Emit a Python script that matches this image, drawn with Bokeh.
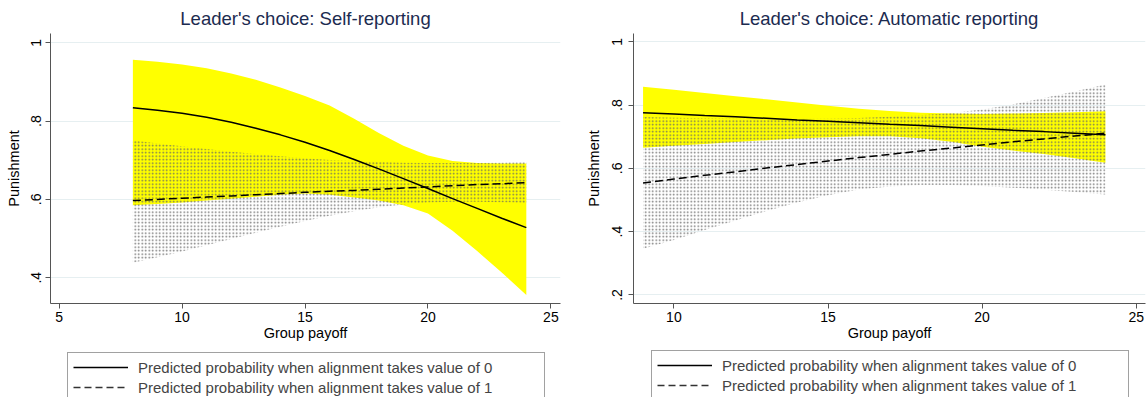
import math
from bokeh.plotting import figure
from bokeh.models import Range1d, Legend, LegendItem, FixedTicker
from bokeh.layouts import row, column
from bokeh.embed import file_html
from bokeh.resources import INLINE

# ---------------- data: Self-reporting ----------------
x_sr = [8, 9, 10, 11, 12, 13, 14, 15, 16, 17, 18, 19, 20, 21, 22, 23, 24]
pred0_sr = [0.834, 0.828, 0.820, 0.810, 0.797, 0.782, 0.765, 0.746, 0.725,
            0.702, 0.678, 0.653, 0.628, 0.602, 0.577, 0.552, 0.528]
hi0_sr = [0.957, 0.952, 0.945, 0.935, 0.922, 0.906, 0.886, 0.864, 0.840,
          0.806, 0.770, 0.737, 0.712, 0.698, 0.693, 0.692, 0.692]
lo0_sr = [0.585, 0.588, 0.592, 0.597, 0.602, 0.607, 0.612, 0.615, 0.612,
          0.605, 0.597, 0.585, 0.564, 0.520, 0.468, 0.413, 0.356]
pred1_sr = [0.597, 0.600, 0.603, 0.606, 0.609, 0.612, 0.615, 0.618, 0.621,
            0.623, 0.626, 0.629, 0.632, 0.635, 0.638, 0.640, 0.643]
hi1_sr = [0.751, 0.743, 0.736, 0.729, 0.722, 0.716, 0.710, 0.705, 0.701,
          0.698, 0.696, 0.694, 0.693, 0.693, 0.693, 0.694, 0.695]
lo1_sr = [0.438, 0.452, 0.467, 0.483, 0.499, 0.515, 0.530, 0.545, 0.558,
          0.570, 0.580, 0.587, 0.592, 0.594, 0.594, 0.593, 0.591]

# ---------------- data: Automatic reporting ----------------
x_ar = [9, 10, 11, 12, 13, 14, 15, 16, 17, 18, 19, 20, 21, 22, 23, 24]
pred0_ar = [0.776, 0.772, 0.767, 0.763, 0.758, 0.753, 0.749, 0.744,
            0.739, 0.735, 0.730, 0.725, 0.720, 0.716, 0.711, 0.706]
hi0_ar = [0.858, 0.848, 0.838, 0.828, 0.818, 0.808, 0.798, 0.788,
          0.781, 0.776, 0.773, 0.772, 0.773, 0.775, 0.777, 0.780]
lo0_ar = [0.665, 0.671, 0.677, 0.683, 0.689, 0.694, 0.698, 0.701,
          0.701, 0.695, 0.684, 0.668, 0.656, 0.645, 0.632, 0.618]
pred1_ar = [0.554, 0.566, 0.578, 0.589, 0.601, 0.612, 0.623, 0.634,
            0.644, 0.655, 0.664, 0.674, 0.684, 0.693, 0.702, 0.711]
hi1_ar = [0.762, 0.760, 0.758, 0.757, 0.756, 0.756, 0.757, 0.759,
          0.763, 0.768, 0.775, 0.786, 0.802, 0.822, 0.843, 0.865]
lo1_ar = [0.346, 0.374, 0.405, 0.435, 0.465, 0.492, 0.515, 0.533,
          0.543, 0.547, 0.547, 0.544, 0.539, 0.532, 0.525, 0.517]

# ---------------- labels ----------------
title_sr = "Leader's choice: Self-reporting"
title_ar = "Leader's choice: Automatic reporting"
xlabel = "Group payoff"
ylabel = "Punishment"
legend_labels = ["Predicted probability when alignment takes value of 0",
                 "Predicted probability when alignment takes value of 1"]
yticks_sr = [0.4, 0.6, 0.8, 1.0]
ytick_labels_sr = [".4", ".6", ".8", "1"]
yticks_ar = [0.2, 0.4, 0.6, 0.8, 1.0]
ytick_labels_ar = [".2", ".4", ".6", ".8", "1"]
xticks = [5, 10, 15, 20, 25]

FONT = "Liberation Sans"
AXIS_COL = "#555555"
SOLID = dict(line_color="black", line_width=1.5)
DASHED = dict(line_color="black", line_width=1.5, line_dash="8 4")

LEG_PAD, LEG_ROW, LEG_SP = 5, 18, 2
LEG_H = 2 * LEG_PAD + 2 * LEG_ROW + LEG_SP


def make_panel(title, x, p0, lo0, hi0, p1, lo1, hi1, xr, yr, yticks, ylabels,
               fw, fh, mbl, mbr, mbt, mbb, ystd, ylstd):
    p = figure(frame_width=fw, frame_height=fh, x_range=Range1d(*xr), y_range=Range1d(*yr),
               output_backend="svg", toolbar_location=None,
               min_border_left=mbl, min_border_right=mbr,
               min_border_top=mbt, min_border_bottom=mbb)
    p.outline_line_color = None
    p.background_fill_color = "white"
    p.border_fill_color = "white"

    p.title.text = title
    p.title.align = "center"
    p.title.text_font = FONT
    p.title.text_font_size = "18.5px"
    p.title.text_font_style = "normal"
    p.title.text_color = "#1c2b50"

    # CI bands
    p.varea(x=x, y1=lo0, y2=hi0, fill_color="#ffff00", fill_alpha=1.0)
    p.varea(x=x, y1=lo1, y2=hi1, fill_alpha=0.0, hatch_pattern="dot",
            hatch_color="#666666", hatch_scale=3.5, hatch_weight=1, hatch_alpha=0.9)

    p.line(x, p0, **SOLID)
    p.line(x, p1, **DASHED)

    # axes
    p.xaxis.ticker = FixedTicker(ticks=xticks)
    p.yaxis.ticker = FixedTicker(ticks=yticks)
    p.yaxis.major_label_overrides = {t: l for t, l in zip(yticks, ylabels)}
    p.yaxis.major_label_orientation = "vertical"
    for ax in (p.xaxis, p.yaxis):
        ax.axis_line_color = AXIS_COL
        ax.major_tick_line_color = AXIS_COL
        ax.minor_tick_line_color = None
        ax.major_tick_out = 5
        ax.major_tick_in = 0
        ax.major_label_text_font = FONT
        ax.major_label_text_font_size = "14px"
        ax.major_label_text_color = "black"
        ax.axis_label_text_font = FONT
        ax.axis_label_text_font_size = "14.5px"
        ax.axis_label_text_font_style = "normal"
        ax.axis_label_text_color = "black"
    p.xaxis.axis_label = xlabel
    p.yaxis.axis_label = ylabel
    p.xaxis.major_label_standoff = 3
    p.xaxis.axis_label_standoff = 0
    p.yaxis.major_label_standoff = ystd
    p.yaxis.axis_label_standoff = ylstd

    p.xgrid.visible = False
    p.ygrid.grid_line_color = "#e6eff1"
    p.ygrid.grid_line_width = 1
    return p


def make_legend(width, height, leg_x, leg_top, x, p0, p1):
    # ranges chosen so the series lie outside the view: only legend glyphs show
    f = figure(frame_width=width, frame_height=height, output_backend="svg",
               toolbar_location=None, min_border=0,
               x_range=Range1d(-2, -1), y_range=Range1d(-2, -1))
    f.axis.visible = False
    f.grid.visible = False
    f.outline_line_color = None
    f.border_fill_color = "white"
    r0 = f.line(x, p0, **SOLID)
    r1 = f.line(x, p1, line_color="#333333", line_width=1.5, line_dash="7 4")
    legend = Legend(items=[LegendItem(label=legend_labels[0], renderers=[r0]),
                           LegendItem(label=legend_labels[1], renderers=[r1])],
                    location=(leg_x, height - leg_top - LEG_H), orientation="vertical",
                    border_line_color="#444444", border_line_width=1,
                    padding=LEG_PAD, spacing=LEG_SP, margin=0,
                    glyph_width=55, glyph_height=LEG_ROW, label_height=LEG_ROW,
                    label_width=401, label_standoff=10,
                    label_text_font=FONT, label_text_font_size="15px",
                    background_fill_color="white")
    f.add_layout(legend, "center")
    return f


p_sr = make_panel(title_sr, x_sr, pred0_sr, lo0_sr, hi0_sr, pred1_sr, lo1_sr, hi1_sr,
                  (4.65, 25.39), (0.334, 1.024), yticks_sr, ytick_labels_sr,
                  510, 270, 50, 10, 33, 44, 4, 7)
p_ar = make_panel(title_ar, x_ar, pred0_ar, lo0_ar, hi0_ar, pred1_ar, lo1_ar, hi1_ar,
                  (8.69, 25.3), (0.173, 1.026), yticks_ar, ytick_labels_ar,
                  512, 270, 63, 3, 31, 46, 6, 8)

l_sr = make_legend(570, 50, 67, 5, x_sr, pred0_sr, pred1_sr)
l_ar = make_legend(578, 50, 81, 3, x_ar, pred0_ar, pred1_ar)

layout = column(row(p_sr, p_ar), row(l_sr, l_ar))
open("out.html", "w").write(file_html(layout, INLINE))
